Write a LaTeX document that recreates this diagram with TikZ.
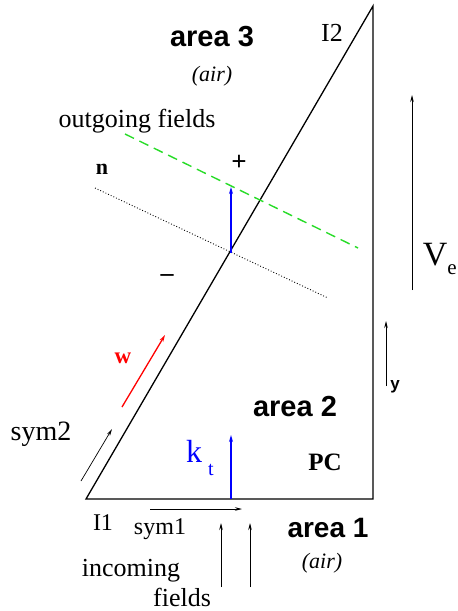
\documentclass[tikz,border=0pt]{standalone}
\usepackage{fontspec}
\setmainfont{Liberation Serif}
\setsansfont{Liberation Sans}
\usetikzlibrary{arrows.meta}

\definecolor{fieldgreen}{RGB}{40,220,40}

\begin{document}
\begin{tikzpicture}[
  x=1pt, y=-1pt,
  edge/.style={line width=1.3pt},
  thinarrow/.style={line width=0.7pt, -{Stealth[length=7pt,width=3.5pt]}},
  region/.style={font=\fontsize{29}{32}\selectfont\sffamily\bfseries},
  medium/.style={font=\fontsize{22}{24}\selectfont\itshape},
  lbl/.style={font=\fontsize{26}{28}\selectfont}
]
\useasboundingbox (0,0) rectangle (458,611);

% crystal wedge
\coordinate (I1) at (86,499);
\coordinate (top) at (373,6);
\coordinate (corner) at (373,499);
\draw[edge, line join=miter] (I1) -- (top) -- (corner) -- cycle;

% normal and outgoing front
\coordinate (n0) at (95,188);
\coordinate (n1) at (328,298);
\coordinate (g0) at (125,134);
\coordinate (g1) at (358,248);
\coordinate (hit) at (231,253);
\coordinate (hitup) at (231,187);
\draw[dotted, line width=0.9pt] (n0) -- (n1);
\draw[fieldgreen, line width=1.4pt, dash pattern=on 10pt off 6pt] (g0) -- (g1);
\draw[blue, line width=1.5pt, -{Stealth[length=7pt,width=4pt]}] (hit) -- (hitup);

\node[font=\fontsize{22}{24}\selectfont\bfseries] (nlab) at (102,169) {n};
\node[font=\fontsize{27}{29}\selectfont\bfseries] (plus) at (239,163) {+};
\node[font=\fontsize{26}{28}\selectfont\bfseries] (minus) at (167,278) {--};
\node[lbl] (out) at (137,121) {outgoing fields};

% area 3
\node[region] (area3) at (212,37) {area 3};
\node[medium] (air3) at (212,76) {(air)};
\node[lbl] (I2) at (332,33) {I2};

% V_e arrow
\coordinate (v0) at (412,290);
\coordinate (v1) at (412,95);
\draw[thinarrow] (v0) -- (v1);
\node[font=\fontsize{34}{36}\selectfont, anchor=base east, inner sep=0pt] (Ve) at (457,265)
  {V\raisebox{-9pt}{\fontsize{21}{23}\selectfont e}};

% y axis
\coordinate (y0) at (386,386);
\coordinate (y1) at (386,321);
\draw[thinarrow] (y0) -- (y1);
\node[font=\fontsize{17}{19}\selectfont\sffamily\bfseries] (ylab) at (395,387) {y};

% area 2
\node[region] (area2) at (295,407) {area 2};
\node[font=\fontsize{25}{27}\selectfont\bfseries] (PC) at (325,462) {PC};

% k_t
\coordinate (k0) at (231,499);
\coordinate (k1) at (231,435);
\draw[blue, line width=1.5pt, -{Stealth[length=7pt,width=4pt]}] (k0) -- (k1);
\node[blue, font=\fontsize{32}{34}\selectfont] (k) at (194,451) {k};
\node[blue, font=\fontsize{20}{22}\selectfont] (t) at (211,470) {t};

% w
\coordinate (w0) at (122,407);
\coordinate (w1) at (165,335);
\draw[red, line width=1.3pt, -{Stealth[length=7pt,width=4pt]}] (w0) -- (w1);
\node[red, font=\fontsize{23}{25}\selectfont\bfseries] (wlab) at (123,358) {w};

% symmetry directions
\coordinate (s20) at (81,481);
\coordinate (s21) at (112,429);
\draw[thinarrow] (s20) -- (s21);
\node[font=\fontsize{28}{30}\selectfont] (sym2) at (41,434) {sym2};
\coordinate (s10) at (150,509);
\coordinate (s11) at (242,509);
\draw[thinarrow] (s10) -- (s11);
\node[font=\fontsize{24}{26}\selectfont] (sym1) at (160,529) {sym1};
\node[font=\fontsize{24}{26}\selectfont] (I1lab) at (103,523) {I1};

% incoming
\coordinate (a0) at (221,587);
\coordinate (a1) at (221,523);
\coordinate (b0) at (250,587);
\coordinate (b1) at (250,523);
\draw[thinarrow] (a0) -- (a1);
\draw[thinarrow] (b0) -- (b1);
\node[lbl] (inc) at (131,571) {incoming};
\node[lbl] (fields) at (182,597) {fields};

% area 1
\node[region, font=\fontsize{28}{30}\selectfont\sffamily\bfseries] (area1) at (328,528) {area 1};
\node[medium] (air1) at (322,563) {(air)};
\end{tikzpicture}
\end{document}
